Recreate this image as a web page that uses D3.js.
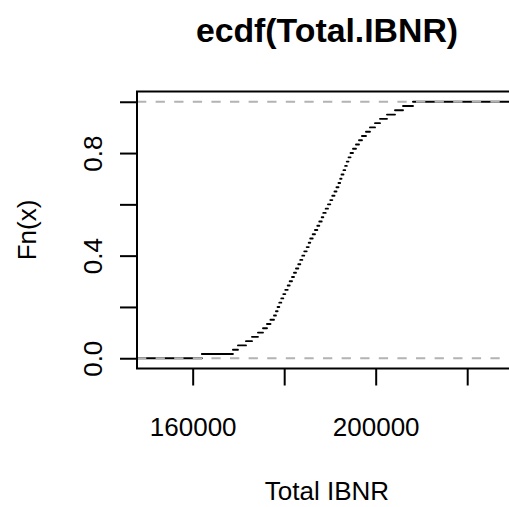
<!DOCTYPE html>
<html><head><meta charset="utf-8">
<script src="https://cdn.jsdelivr.net/npm/d3@7/dist/d3.min.js"></script>
<style>body{margin:0;background:#fff}svg{display:block}</style>
</head><body>
<script>
// ---- data ----
const chartTitle = "ecdf(Total.IBNR)";
const xLabel = "Total IBNR";
const yLabel = "Fn(x)";
const totalIBNR = [
  162000, 168800, 169900, 171650, 172960, 174270, 175370, 176240, 177000, 177770,
  178200, 178560, 178930, 179370, 179800, 180240, 180770, 181200, 181710, 182140,
  182580, 183080, 183520, 183960, 184390, 184920, 185360, 185700, 186230, 186730,
  187240, 187670, 188200, 188550, 189070, 189570, 190080, 190510, 191000, 191430,
  191870, 192240, 192530, 192960, 193330, 193680, 194060, 194500, 195040, 195690,
  196350, 197000, 197880, 198750, 199850, 200940, 202470, 204220, 205970, 208150
];
const xTicks = [160000, 180000, 200000, 220000];
const xTickLabels = ["160000", "", "200000", ""];
const yTicks = [0, 0.2, 0.4, 0.6, 0.8, 1.0];
const yTickLabels = ["0.0", "", "0.4", "", "0.8", ""];
const refLines = [0, 1];
const xLimits = [147830, 230885];
const yLimits = [-0.04, 1.04];

// ---- layout ----
const W = 509, H = 507;
const plot = {left: 137, right: 517, top: 91.5, bottom: 368.5};
const font = "'Liberation Sans', Arial, Helvetica, sans-serif";

const svg = d3.select("body").append("svg")
  .attr("width", W).attr("height", H)
  .style("background", "#fff");

const x = d3.scaleLinear().domain(xLimits).range([plot.left, plot.right]);
const y = d3.scaleLinear().domain(yLimits).range([plot.bottom, plot.top]);

svg.append("defs").append("clipPath").attr("id", "clip")
  .append("rect").attr("x", plot.left).attr("y", plot.top)
  .attr("width", plot.right - plot.left).attr("height", plot.bottom - plot.top);

// ECDF horizontal steps (verticals = FALSE)
const sorted = totalIBNR.slice().sort(d3.ascending);
const n = sorted.length;
const steps = d3.range(n + 1).map(i => ({
  x0: i === 0 ? xLimits[0] - 20000 : sorted[i - 1],
  x1: i === n ? xLimits[1] + 20000 : sorted[i],
  f: i / n
}));

const g = svg.append("g").attr("clip-path", "url(#clip)");
g.selectAll("line.step").data(steps).join("line")
  .attr("class", "step")
  .attr("x1", d => x(d.x0)).attr("x2", d => x(d.x1))
  .attr("y1", d => y(d.f)).attr("y2", d => y(d.f))
  .attr("stroke", "#000").attr("stroke-width", 1.9)
  .attr("stroke-linecap", "round");

// gray reference lines at 0 and 1
g.selectAll("line.ref").data(refLines).join("line")
  .attr("class", "ref")
  .attr("x1", plot.left).attr("x2", plot.right)
  .attr("y1", d => y(d)).attr("y2", d => y(d))
  .attr("stroke", "#b3b3b3").attr("stroke-width", 2)
  .attr("stroke-dasharray", "9.3,9.3");

// box
svg.append("rect")
  .attr("x", plot.left).attr("y", plot.top)
  .attr("width", plot.right - plot.left).attr("height", plot.bottom - plot.top)
  .attr("fill", "none").attr("stroke", "#000").attr("stroke-width", 2);

// x axis
const xAxis = svg.append("g").attr("transform", `translate(0,${plot.bottom})`)
  .call(d3.axisBottom(x).tickValues(xTicks).tickSize(17)
    .tickFormat((d, i) => xTickLabels[i]));
xAxis.select(".domain").remove();
xAxis.selectAll(".tick line").attr("stroke", "#000").attr("stroke-width", 2);
xAxis.selectAll(".tick text")
  .attr("y", 67.5).attr("dy", 0)
  .attr("font-family", font).attr("font-size", 26).attr("fill", "#000");

// y axis
const yAxis = svg.append("g").attr("transform", `translate(${plot.left},0)`)
  .call(d3.axisLeft(y).tickValues(yTicks).tickSize(17)
    .tickFormat((d, i) => yTickLabels[i]));
yAxis.select(".domain").remove();
yAxis.selectAll(".tick line").attr("stroke", "#000").attr("stroke-width", 2);
yAxis.selectAll(".tick text")
  .attr("x", 0).attr("y", 0).attr("dy", 0)
  .attr("text-anchor", "middle")
  .attr("transform", "translate(-35,0) rotate(-90)")
  .attr("font-family", font).attr("font-size", 26).attr("fill", "#000");

// title & axis labels
svg.append("text").attr("x", (plot.left + plot.right) / 2).attr("y", 42)
  .attr("text-anchor", "middle").attr("font-family", font)
  .attr("font-weight", "bold").attr("font-size", 33.8).text(chartTitle);

svg.append("text").attr("x", (plot.left + plot.right) / 2).attr("y", 500)
  .attr("text-anchor", "middle").attr("font-family", font)
  .attr("font-size", 26).text(xLabel);

svg.append("text")
  .attr("transform", `translate(36,${(plot.top + plot.bottom) / 2}) rotate(-90)`)
  .attr("text-anchor", "middle").attr("font-family", font)
  .attr("font-size", 26).text(yLabel);
</script>
</body></html>
